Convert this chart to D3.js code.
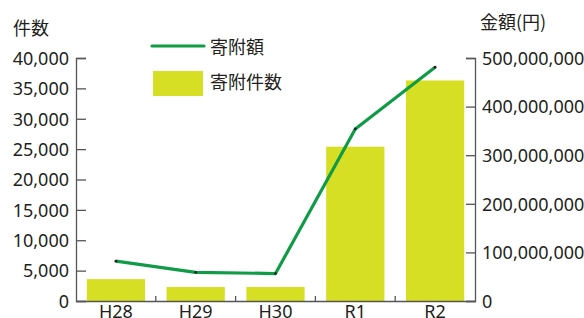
<!DOCTYPE html>
<html>
<head>
<meta charset="utf-8">
<script src="https://cdn.jsdelivr.net/npm/d3@7"></script>
<style>
  body { margin: 0; background: #fff; }
  svg { display: block; }
  .axis text { font-family: "Noto Sans", sans-serif; font-size: 18px; fill: #231f20; }
  .axis path, .axis line { stroke: #555; stroke-width: 1.3; }
  .jp { font-family: "Noto Sans CJK JP", sans-serif; font-size: 18px; fill: #231f20; }
</style>
</head>
<body>
<svg id="grafico" width="584" height="318"></svg>
<script>
// dados
const categorias = ['H28', 'H29', 'H30', 'R1', 'R2'];
const kensu = [3600, 2300, 2300, 25400, 36300];              // 寄附件数
const kingaku = [82000000, 59000000, 56500000, 354000000, 481000000]; // 寄附額
const ticksEsq = [0, 5000, 10000, 15000, 20000, 25000, 30000, 35000, 40000];
const ticksDir = [0, 100000000, 200000000, 300000000, 400000000, 500000000];

const corBarra = '#d6df23';
const corLinha = '#109b47';

const svg = d3.select('#grafico');
const area = {left: 76, right: 475, top: 58, bottom: 301};

const x = d3.scaleBand().domain(categorias).range([area.left, area.right]).paddingInner(0).paddingOuter(0);
const y = d3.scaleLinear().domain([0, 40000]).range([area.bottom, area.top]);
const y2 = d3.scaleLinear().domain([0, 500000000]).range([area.bottom, area.top]);
const fmt = d3.format(',');

// barras
const barW = x.bandwidth() * 0.73;
svg.append('g').selectAll('rect')
  .data(categorias)
  .enter()
  .append('rect')
  .attr('x', (d) => x(d) + (x.bandwidth() - barW) / 2)
  .attr('y', (d, i) => y(kensu[i]))
  .attr('width', barW)
  .attr('height', (d, i) => y(0) - y(kensu[i]))
  .attr('fill', corBarra);

// eixo Y esquerdo
svg.append('g')
  .attr('class', 'axis')
  .attr('transform', 'translate(' + area.left + ',0)')
  .call(d3.axisLeft(y).tickValues(ticksEsq).tickFormat(fmt).tickSizeInner(-10).tickSizeOuter(-10).tickPadding(7))
  .selectAll('text').attr('dy', '0.35em');

// eixo Y direito
svg.append('g')
  .attr('class', 'axis')
  .attr('transform', 'translate(' + area.right + ',0)')
  .call(d3.axisRight(y2).tickValues(ticksDir).tickFormat(fmt).tickSizeInner(-9).tickSizeOuter(-9).tickPadding(7))
  .selectAll('text').attr('dy', '0.35em');

// eixo X
const gx = svg.append('g')
  .attr('class', 'axis')
  .attr('transform', 'translate(0,' + area.bottom + ')')
  .call(d3.axisBottom(x).tickSize(0).tickSizeOuter(0).tickPadding(4));
gx.selectAll('text').attr('y', 17).attr('dy', 0);

// marcas entre categorias
gx.selectAll('.sep')
  .data(categorias.slice(1))
  .enter()
  .append('line')
  .attr('class', 'sep')
  .attr('x1', (d) => x(d))
  .attr('x2', (d) => x(d))
  .attr('y1', 0)
  .attr('y2', -5);

// linha 寄附額
const cx = (d) => x(d) + x.bandwidth() / 2;
const linha = d3.line()
  .x((d) => cx(d))
  .y((d, i) => y2(kingaku[i]));

svg.append('path')
  .datum(categorias)
  .attr('d', linha)
  .attr('fill', 'none')
  .attr('stroke', corLinha)
  .attr('stroke-width', 3.2)
  .attr('stroke-linejoin', 'round');

svg.append('g').selectAll('circle')
  .data(categorias)
  .enter()
  .append('circle')
  .attr('cx', (d) => cx(d))
  .attr('cy', (d, i) => y2(kingaku[i]))
  .attr('r', 1.4)
  .attr('fill', '#222');

// títulos dos eixos
svg.append('text').attr('class', 'jp').attr('x', 13).attr('y', 35).text('件数');
svg.append('text').attr('class', 'jp').attr('x', 480).attr('y', 29).text('金額(円)');

// legenda
const leg = svg.append('g');
leg.append('line')
  .attr('x1', 152).attr('x2', 204).attr('y1', 46).attr('y2', 46)
  .attr('stroke', corLinha).attr('stroke-width', 3.2).attr('stroke-linecap', 'round');
leg.append('text').attr('class', 'jp').attr('x', 210).attr('y', 54).text('寄附額');
leg.append('rect')
  .attr('x', 153).attr('y', 71).attr('width', 50).attr('height', 25)
  .attr('fill', corBarra);
leg.append('text').attr('class', 'jp').attr('x', 210).attr('y', 89).text('寄附件数');
</script>
</body>
</html>
